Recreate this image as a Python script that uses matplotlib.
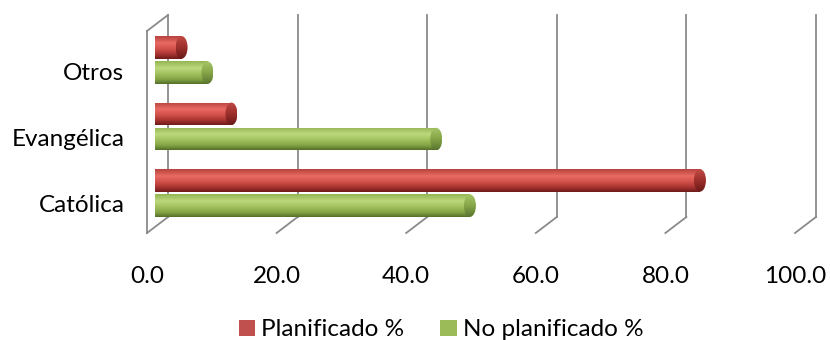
import numpy as np
import matplotlib
matplotlib.use('Agg')
import matplotlib.pyplot as plt
from matplotlib.colors import LinearSegmentedColormap
from matplotlib.patches import Ellipse
from matplotlib.transforms import ScaledTranslation

# data
categories = ['Católica', 'Evangélica', 'Otros']
planificado = [84.1, 11.8, 4.1]
no_planificado = [48.6, 43.4, 8.1]
x_ticks = [0, 20, 40, 60, 80, 100]
x_tick_labels = ['0.0', '20.0', '40.0', '60.0', '80.0', '100.0']

plt.rcParams['font.family'] = ['Lato', 'DejaVu Sans']

fig = plt.figure(figsize=(8.3, 3.4), dpi=100)
ax = fig.add_axes([155 / 830, 100 / 340, 648 / 830, 230 / 340])
ax.set_xlim(0, 100)
ax.set_ylim(-0.707, 2.752)

# cylinder shading, top -> bottom
red_cmap = LinearSegmentedColormap.from_list('red_cyl', [
    (0.0, '#b8433f'), (0.3, '#e86a63'), (0.55, '#d4514c'),
    (0.8, '#a6332f'), (1.0, '#6e1c1a')])
green_cmap = LinearSegmentedColormap.from_list('green_cyl', [
    (0.0, '#95b552'), (0.3, '#bcd97c'), (0.55, '#a3c25f'),
    (0.8, '#84a444'), (1.0, '#55702a')])
red_end = LinearSegmentedColormap.from_list('red_end', ['#c24a45', '#9c2f2b', '#6a1a18'])
green_end = LinearSegmentedColormap.from_list('green_end', ['#a6c566', '#86a648', '#5a7530'])

gradient = np.linspace(0, 1, 64).reshape(-1, 1)
y = np.arange(len(categories))
h = 0.34
off = 0.19
cap_w = 12 / 6.48  # end cap width in data units

def cylinders(values, ypos, color, cmap, end_cmap, label):
    bars = ax.barh(ypos, values, height=h, color=color, label=label, zorder=3)
    for bar in bars:
        x0, y0 = bar.get_x(), bar.get_y()
        x1, y1 = x0 + bar.get_width(), y0 + bar.get_height()
        im = ax.imshow(gradient, cmap=cmap, aspect='auto', origin='upper',
                       extent=(x0, x1, y0, y1), zorder=4)
        im.set_clip_path(bar)
        cap = Ellipse((x1, (y0 + y1) / 2), cap_w, y1 - y0, facecolor='none',
                      edgecolor='none', zorder=5)
        ax.add_patch(cap)
        im2 = ax.imshow(gradient, cmap=end_cmap, aspect='auto', origin='upper',
                        extent=(x1 - cap_w / 2, x1 + cap_w / 2, y0, y1), zorder=5)
        im2.set_clip_path(cap)
    return bars

cylinders(planificado, y + off, '#c0504d', red_cmap, red_end, 'Planificado %')
cylinders(no_planificado, y - off, '#9bbb59', green_cmap, green_end, 'No planificado %')
ax.set_xlim(0, 100)
ax.set_ylim(-0.707, 2.752)

# 3-D style walls: back gridlines, floor ticks and the left wall edge
back = ax.transData + ScaledTranslation(0.13, 0, fig.dpi_scale_trans)
front = ax.transData + ScaledTranslation(-0.08, -0.16, fig.dpi_scale_trans)
y_bot, y_top = -0.361, 2.677
grid_kw = dict(color='#8a8a8a', lw=1.3, zorder=1, clip_on=False)
for t in x_ticks:
    ax.plot([t, t], [y_bot, y_top], transform=back, **grid_kw)
    p_back = back.transform((t, y_bot))
    p_front = front.transform((t, y_bot))
    ax.plot([p_back[0], p_front[0]], [p_back[1], p_front[1]], transform=None, **grid_kw)
ax.plot([0, 0], [y_bot, y_top], transform=front, **grid_kw)
p_back = back.transform((0, y_top))
p_front = front.transform((0, y_top))
ax.plot([p_back[0], p_front[0]], [p_back[1], p_front[1]], transform=None, **grid_kw)

for s in ax.spines.values():
    s.set_visible(False)

ax.set_xticks(x_ticks)
ax.set_xticklabels(x_tick_labels, fontsize=17.5)
ax.set_yticks(y)
ax.set_yticklabels(categories, fontsize=17.5)
ax.tick_params(length=0)
ax.tick_params(axis='x', pad=18.5)
ax.tick_params(axis='y', pad=22)
for lab in ax.get_xticklabels():
    lab.set_transform(lab.get_transform() + ScaledTranslation(-0.08, 0, fig.dpi_scale_trans))
for lab in ax.get_yticklabels():
    lab.set_transform(lab.get_transform() + ScaledTranslation(0, -0.11, fig.dpi_scale_trans))

fig.legend(loc='center', bbox_to_anchor=(441 / 830, 1 - 330 / 340), ncol=2,
           frameon=False, fontsize=17.5, handlelength=0.66, handleheight=0.66,
           handletextpad=0.25, columnspacing=1.5)

fig.savefig('out.png', dpi=100)
